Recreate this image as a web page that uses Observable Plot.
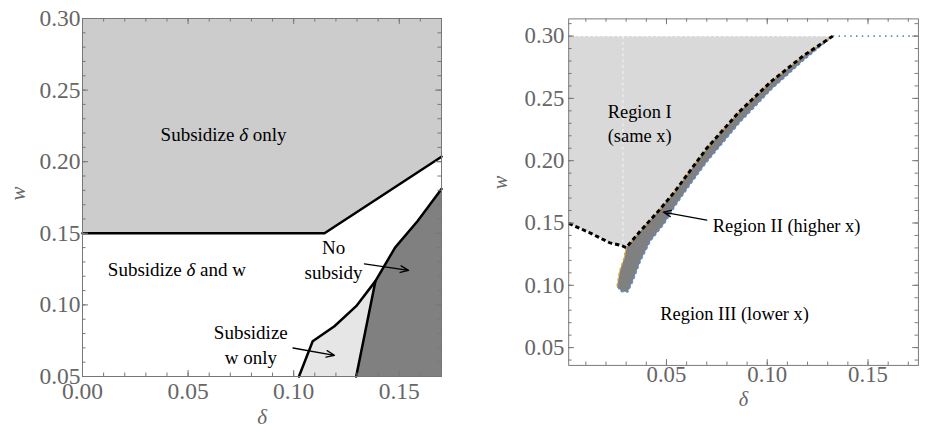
<!DOCTYPE html>
<html><head><meta charset="utf-8">
<script src="https://cdn.jsdelivr.net/npm/d3@7"></script>
<script src="https://cdn.jsdelivr.net/npm/@observablehq/plot@0.6"></script>
<style>
html,body{margin:0;padding:0;background:#fff;overflow:hidden;width:925px;height:435px;}
#wrap{position:relative;width:925px;height:435px;overflow:hidden;}
#left{position:absolute;left:0;top:0;}
#right{position:absolute;left:460px;top:0;}
svg text{font-family:"Liberation Serif", "Times New Roman", serif !important;}
g[aria-label$="tick label"]{font-size:23.5px !important;}
</style></head><body><div id="wrap"><div id="left"></div><div id="right"></div></div>
<script>
// ---------- LEFT PANEL DATA ----------
const leftXDomain = [0, 0.17];
const leftYDomain = [0.05, 0.30];
const leftXMajor = [0.00, 0.05, 0.10, 0.15];
const leftYMajor = [0.05, 0.10, 0.15, 0.20, 0.25, 0.30];
// boundary of "Subsidize δ only" region
const deltaOnlyBoundary = [{d:0,w:0.15},{d:0.1146,w:0.15},{d:0.17,w:0.2035}];
// boundary of "No subsidy" region
const noSubsidyBoundary = [{d:0.1296,w:0.05},{d:0.1387,w:0.1166},{d:0.148,w:0.140},{d:0.1587,w:0.1586},{d:0.17,w:0.181}];
// left boundary of "Subsidize w only" region
const wOnlyBoundary = [{d:0.1025,w:0.05},{d:0.109,w:0.0746},{d:0.1193,w:0.0851},{d:0.1296,w:0.0991},{d:0.1387,w:0.1166}];
const leftLabels = [
  {d:0.0668, w:0.2197, t:"Subsidize δ only"},
  {d:0.0447, w:0.1254, t:"Subsidize δ and w"},
  {d:0.0797, w:0.0730, t:"Subsidize\nw only"},
  {d:0.1189, w:0.1324, t:"No\nsubsidy"}
];
const leftArrows = [
  {d1:0.1335, w1:0.1287, d2:0.1544, w2:0.1241},
  {d1:0.0997, w1:0.0699, d2:0.1193, w2:0.0648}
];

// ---------- RIGHT PANEL DATA ----------
const rightXDomain = [0.0015, 0.175];
const rightYDomain = [0.0357, 0.3138];
const rightXMajor = [0.05, 0.10, 0.15];
const rightYMajor = [0.05, 0.10, 0.15, 0.20, 0.25, 0.30];
// Region I boundary (black dashed)
const regionIBoundary = [{d:0.0015,w:0.1497},{d:0.0123,w:0.1419},{d:0.0219,w:0.1341},{d:0.0276,w:0.1320},{d:0.030,w:0.1302},{d:0.0364,w:0.1424},{d:0.0468,w:0.1610},{d:0.054,w:0.1750},{d:0.070,w:0.2100},{d:0.086,w:0.2391},{d:0.1021,w:0.2638},{d:0.1181,w:0.2844},{d:0.1325,w:0.30}];
// Region II lower/right edge (blue)
const regionIILower = [{d:0.1325,w:0.30},{d:0.118,w:0.2806},{d:0.102,w:0.2572},{d:0.086,w:0.2300},{d:0.070,w:0.1990},{d:0.062,w:0.1815},{d:0.054,w:0.1630},{d:0.049,w:0.1497},{d:0.042,w:0.1355},{d:0.0372,w:0.1199},{d:0.0332,w:0.1030},{d:0.0308,w:0.0947},{d:0.0276,w:0.0950},{d:0.0255,w:0.0992}];
// Region II west edge below the corner (orange)
const regionIIWest = [{d:0.0255,w:0.0992},{d:0.0267,w:0.1109},{d:0.0290,w:0.1220},{d:0.030,w:0.1302}];
const topW = 0.30;
const cornerDelta = 0.0284;
const rightLabelsMiddle = [
  {d:0.0367, w:0.2310, t:"Region I\n(same x)"},
  {d:0.0838, w:0.0781, t:"Region III (lower x)"}
];
const rightLabelsStart = [
  {d:0.0730, w:0.1490, t:"Region II (higher x)"}
];
const rightArrows = [{d1:0.070, w1:0.1523, d2:0.0484, w2:0.1588}];

// ---------- STYLE ----------
const FONT = "Liberation Serif";
const AXIS = "#777777";
const LABEL = "#666666";

function range(a, b, s) { return d3.range(Math.round(a/s), Math.round(b/s)+1).map(i => +(i*s).toFixed(4)); }

function tickMarks(xMajor, xMinor, yMajor, yMinor, H, W) {
  const M = 6, m = 3.5;
  const st = {stroke: AXIS, strokeWidth: 1};
  return [
    Plot.ruleX(xMinor, {x: d=>d, insetTop: H - m, ...st}),
    Plot.ruleX(xMajor, {x: d=>d, insetTop: H - M, ...st}),
    Plot.ruleX(xMinor, {x: d=>d, insetBottom: H - m, ...st}),
    Plot.ruleX(xMajor, {x: d=>d, insetBottom: H - M, ...st}),
    Plot.ruleY(yMinor, {y: d=>d, insetRight: W - m, ...st}),
    Plot.ruleY(yMajor, {y: d=>d, insetRight: W - M, ...st}),
    Plot.ruleY(yMinor, {y: d=>d, insetLeft: W - m, ...st}),
    Plot.ruleY(yMajor, {y: d=>d, insetLeft: W - M, ...st})
  ];
}

function fixText(svg) {
  svg.querySelectorAll("text, tspan").forEach(el => {
    if (el.children.length === 0 && el.textContent.includes("δ") && el.textContent.length > 1) {
      el.innerHTML = el.textContent.replace(/δ/g, '<tspan font-style="italic">δ</tspan>');
    }
  });
}

// ---------- LEFT PLOT ----------
{
  const [x0, x1] = leftXDomain, [y0, y1] = leftYDomain;
  const topPoly = [...deltaOnlyBoundary, {d:x1,w:y1}, {d:x0,w:y1}];
  const darkPoly = [...noSubsidyBoundary, {d:x1,w:y0}];
  const lightPoly = [...wOnlyBoundary, noSubsidyBoundary[0]];
  const mL = 82, mR = 19, mT = 18, mB = 59, width = 460, height = 435;
  const H = height - mT - mB, W = width - mL - mR;
  const svg = Plot.plot({
    width, height, marginLeft: mL, marginRight: mR, marginTop: mT, marginBottom: mB,
    x: {domain: leftXDomain}, y: {domain: leftYDomain},
    style: {fontFamily: FONT, background: "white"},
    marks: [
      Plot.line(topPoly, {x:"d", y:"w", fill:"#cccccc", stroke:"none"}),
      Plot.line(darkPoly, {x:"d", y:"w", fill:"#808080", stroke:"none"}),
      Plot.line(lightPoly, {x:"d", y:"w", fill:"#e6e6e6", stroke:"none"}),
      Plot.line(deltaOnlyBoundary, {x:"d", y:"w", stroke:"black", strokeWidth:2.5}),
      Plot.line(noSubsidyBoundary, {x:"d", y:"w", stroke:"black", strokeWidth:2.5}),
      Plot.line(wOnlyBoundary, {x:"d", y:"w", stroke:"black", strokeWidth:2.5}),
      Plot.frame({stroke: AXIS}),
      ...tickMarks(leftXMajor, range(0, 0.17, 0.01), leftYMajor, range(0.05, 0.30, 0.01), H, W),
      Plot.axisX(leftXMajor, {tickSize:0, tickPadding:6, tickFormat: d3.format(".2f"), fontSize:23.5, color: LABEL, label:null, fontFamily: FONT}),
      Plot.axisY(leftYMajor, {tickSize:0, tickPadding:2, tickFormat: d3.format(".2f"), fontSize:23.5, color: LABEL, label:null, fontFamily: FONT}),
      Plot.text(["w"], {text: d=>d, frameAnchor:"left", dx:-64.5, dy:3, rotate:-90, fontSize:21, fontStyle:"italic", fill: LABEL, fontFamily: FONT}),
      Plot.text(["δ"], {text: d=>d, frameAnchor:"bottom", dy:47, fontSize:21, fontStyle:"italic", fill: LABEL, fontFamily: FONT}),
      Plot.arrow(leftArrows, {x1:"d1", y1:"w1", x2:"d2", y2:"w2", stroke:"black", strokeWidth:1.3, headLength:10, headAngle:45}),
      Plot.text(leftLabels, {x:"d", y:"w", text:"t", fontSize:19, lineHeight:1.3, fill:"black", fontFamily: FONT})
    ]
  });
  fixText(svg);
  document.getElementById("left").appendChild(svg);
}

// ---------- RIGHT PLOT ----------
{
  const [x0, x1] = rightXDomain;
  const regionIPoly = [...regionIBoundary, {d:x0, w:topW}];
  const cornerIdx = 4;
  const regionIIPoly = [...regionIBoundary.slice(cornerIdx), ...regionIILower.slice(1), ...regionIIWest.slice(1)];
  const orangeLine = [...regionIIWest, ...regionIBoundary.slice(cornerIdx + 1)];
  const topEnd = regionIBoundary[regionIBoundary.length-1].d;
  const mL = 111.7, mR = 7.3, mT = 19, mB = 58.3, width = 480, height = 435;
  const H = height - mT - mB, W = width - mL - mR;
  const dash = {strokeLinecap: "butt", strokeLinejoin: "miter"};
  const svg = Plot.plot({
    width, height, marginLeft: mL, marginRight: mR, marginTop: mT, marginBottom: mB,
    x: {domain: rightXDomain}, y: {domain: rightYDomain},
    style: {fontFamily: FONT, background: "white", overflow: "hidden"},
    marks: [
      Plot.line(regionIPoly, {x:"d", y:"w", fill:"#d9d9d9", stroke:"none"}),
      Plot.line(regionIIPoly, {x:"d", y:"w", fill:"#808080", stroke:"none"}),
      Plot.line([{d:x0,w:topW},{d:topEnd,w:topW}], {x:"d", y:"w", stroke:"white", strokeWidth:1.2, strokeDasharray:"2,3", ...dash}),
      Plot.line([{d:cornerDelta,w:topW},{d:cornerDelta,w:0.1315}], {x:"d", y:"w", stroke:"white", strokeWidth:1, strokeDasharray:"3,3", strokeOpacity:0.8, ...dash}),
      Plot.line(regionIILower, {x:"d", y:"w", stroke:"#5b8ad0", strokeWidth:1.6, strokeDasharray:"3,2.5", ...dash}),
      Plot.line(orangeLine, {x:"d", y:"w", stroke:"#e3a035", strokeWidth:1.6, strokeDasharray:"3,2.5", ...dash}),
      Plot.line([{d:topEnd,w:topW},{d:x1,w:topW}], {x:"d", y:"w", stroke:"#5b8ad0", strokeWidth:1.8, strokeDasharray:"1.5,4.5", ...dash}),
      Plot.line(regionIBoundary, {x:"d", y:"w", stroke:"black", strokeWidth:3, strokeDasharray:"4.5,3", ...dash}),
      Plot.frame({stroke: AXIS}),
      ...tickMarks(rightXMajor, range(0.01, 0.17, 0.01), rightYMajor, range(0.04, 0.31, 0.01), H, W),
      Plot.axisX(rightXMajor, {tickSize:0, tickPadding:0, tickFormat: d3.format(".2f"), fontSize:23.5, color: LABEL, label:null, fontFamily: FONT}),
      Plot.axisY(rightYMajor, {tickSize:0, tickPadding:4.4, tickFormat: d3.format(".2f"), fontSize:23.5, color: LABEL, label:null, fontFamily: FONT}),
      Plot.text(["w"], {text: d=>d, frameAnchor:"left", dx:-70.7, dy:-3, rotate:-90, fontSize:21, fontStyle:"italic", fill: LABEL, fontFamily: FONT}),
      Plot.text(["δ"], {text: d=>d, frameAnchor:"bottom", dy:42, fontSize:21, fontStyle:"italic", fill: LABEL, fontFamily: FONT}),
      Plot.arrow(rightArrows, {x1:"d1", y1:"w1", x2:"d2", y2:"w2", stroke:"black", strokeWidth:1.3, headLength:10, headAngle:45}),
      Plot.text(rightLabelsMiddle, {x:"d", y:"w", text:"t", textAnchor:"middle", fontSize:19, lineHeight:1.3, fill:"black", fontFamily: FONT}),
      Plot.text(rightLabelsStart, {x:"d", y:"w", text:"t", textAnchor:"start", fontSize:19, lineHeight:1.3, fill:"black", fontFamily: FONT})
    ]
  });
  fixText(svg);
  document.getElementById("right").appendChild(svg);
}
</script></body></html>
